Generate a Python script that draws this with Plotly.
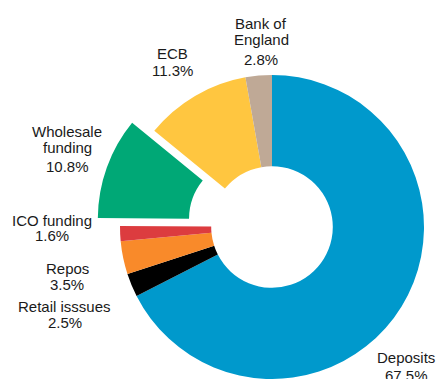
import math
import plotly.graph_objects as go

# Funding sources (share of total, %), listed clockwise from 12 o'clock
labels = ["Deposits", "Retail isssues", "Repos", "ICO funding",
          "Wholesale funding", "ECB", "Bank of England"]
values = [67.5, 2.5, 3.5, 1.6, 10.8, 11.3, 2.8]
# How each label is broken over lines
label_lines = [["Deposits"], ["Retail isssues"], ["Repos"], ["ICO funding"],
               ["Wholesale", "funding"], ["ECB"], ["Bank of", "England"]]
exploded = "Wholesale funding"

colors = ["#0099CC", "#000000", "#F98A2A", "#DC3C3F",
          "#00A876", "#FFC640", "#BFA996"]

W, H = 437, 379
CX, CY, R = 272, 227, 152      # donut centre and radius, px
HOLE = 0.40
PULL = 0.155                   # explode distance as a fraction of R

# label placement: centre x and baseline of first line (px), gap to % line
label_pos = {
    "Deposits": (406, 363, 18),
    "Retail isssues": (64.5, 312, 16),
    "Repos": (67, 274, 16),
    "ICO funding": (52, 226, 15),
    "Wholesale funding": (67, 136.7, 19),
    "ECB": (172, 58.3, 17),
    "Bank of England": (261, 28.3, 20),
}
NAME_GAP = 16
FONT = dict(family="Liberation Sans, Arial, sans-serif", size=15, color="#1a1a1a")
CLEAR = "rgba(0,0,0,0)"


def domain(cx, cy, r):
    return dict(x=[(cx - r) / W, (cx + r) / W],
                y=[max(0.0, 1 - (cy + r) / H), min(1.0, 1 - (cy - r) / H)])


def pie(cols, cx, cy):
    return go.Pie(
        labels=labels, values=values, sort=False, direction="clockwise",
        rotation=0, hole=HOLE, textinfo="none", hoverinfo="label+percent",
        marker=dict(colors=cols, line=dict(width=0)),
        domain=domain(cx, cy, R), showlegend=False,
    )


k = labels.index(exploded)
total = sum(values)
mid = (sum(values[:k]) + values[k] / 2) / total * 2 * math.pi
dx = PULL * R * math.sin(mid)
dy = -PULL * R * math.cos(mid)

base_cols = [CLEAR if i == k else c for i, c in enumerate(colors)]
pull_cols = [c if i == k else CLEAR for i, c in enumerate(colors)]

fig = go.Figure([pie(base_cols, CX, CY), pie(pull_cols, CX + dx, CY + dy)])

annotations = []
for lab, val, lines in zip(labels, values, label_lines):
    x, base, pct_gap = label_pos[lab]
    rows = [(ln, base + i * NAME_GAP) for i, ln in enumerate(lines)]
    rows.append((f"{val:.1f}%", rows[-1][1] + pct_gap))
    for txt, b in rows:
        annotations.append(dict(
            text=txt, x=x / W, y=1 - (b - 5.2) / H, xref="paper", yref="paper",
            xanchor="center", yanchor="middle", showarrow=False, font=FONT))

fig.update_layout(
    width=W, height=H, margin=dict(l=0, r=0, t=0, b=0),
    paper_bgcolor="white", plot_bgcolor="white",
    annotations=annotations,
)

fig.write_html("out.html")
